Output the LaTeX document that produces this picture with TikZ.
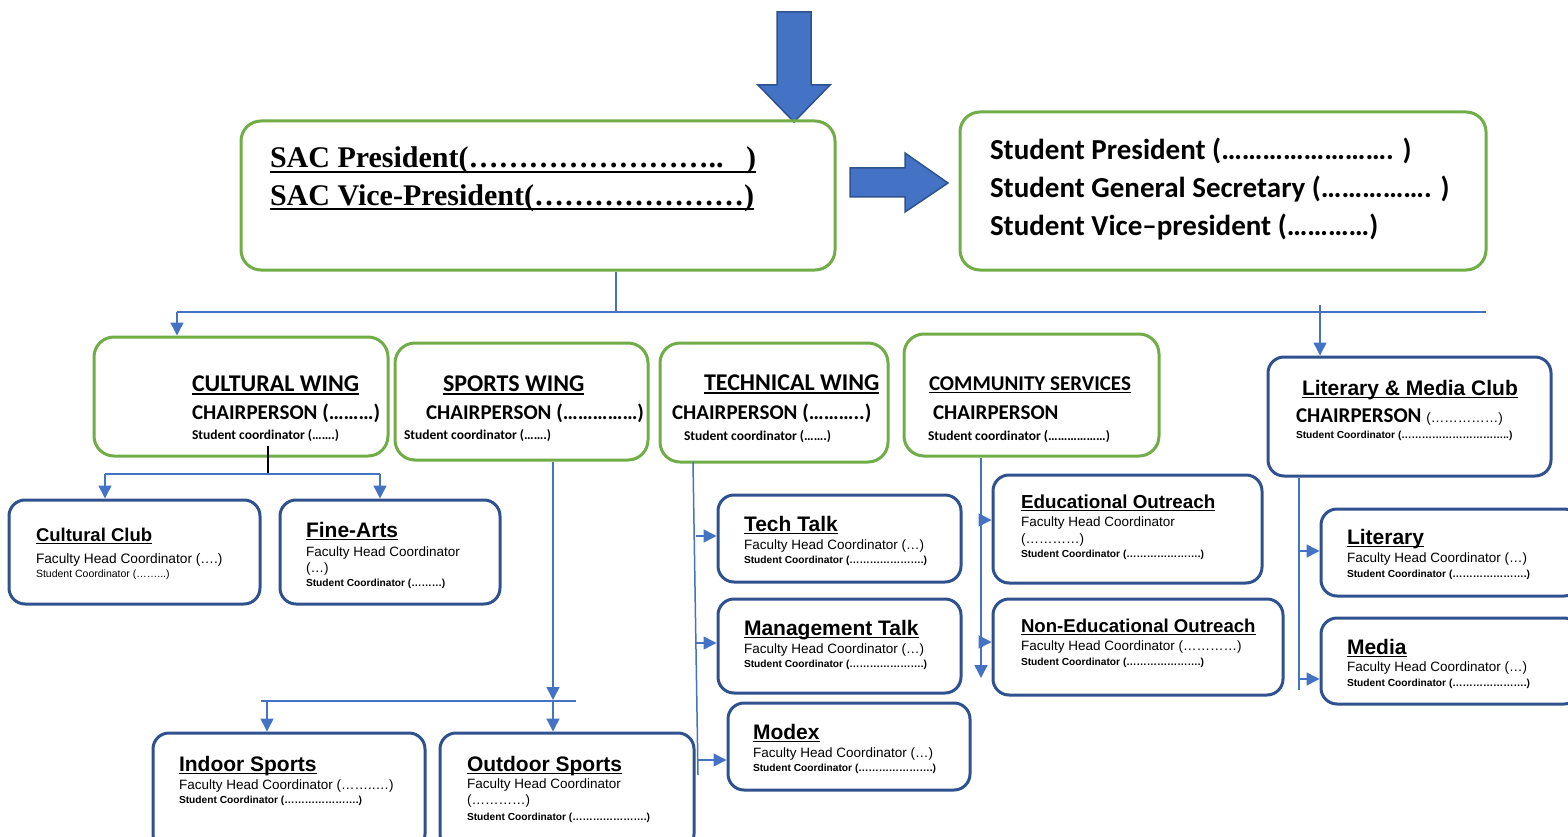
\documentclass[tikz,border=0pt]{standalone}
\usepackage{fontspec}
\setmainfont{Liberation Sans}
\newfontfamily\calfont{Carlito}
\newfontfamily\tnrfont{Liberation Serif}
\usetikzlibrary{arrows.meta}
\definecolor{gr}{HTML}{70AD47}
\definecolor{bb}{HTML}{2F528F}
\definecolor{ln}{HTML}{4472C4}
\newcommand\uln[1]{\setbox0\hbox{#1}\leavevmode\rlap{\vrule width\wd0 height -0.09em depth 0.165em}\box0}
\begin{document}
\begin{tikzpicture}[x=1pt,y=-1pt,
  gbox/.style={draw=gr, line width=3pt, rounded corners=20pt, inner sep=0pt},
  bbox/.style={draw=bb, line width=3pt, rounded corners=16pt, inner sep=0pt},
  tx/.style={anchor=base west, inner sep=0pt, outer sep=0pt},
  sac/.style={tx, font=\tnrfont\bfseries\fontsize{30}{30}\selectfont},
  stu/.style={tx, font=\calfont\bfseries\fontsize{29}{29}\selectfont},
  wing/.style={tx, font=\calfont\bfseries\fontsize{24}{24}\selectfont},
  chair/.style={tx, font=\calfont\bfseries\fontsize{21}{21}\selectfont},
  wsc/.style={tx, font=\calfont\bfseries\fontsize{13.5}{13.5}\selectfont},
  ttl/.style={tx, font=\bfseries\fontsize{21}{21}\selectfont},
  fhc/.style={tx, font=\fontsize{13.5}{13.5}\selectfont},
  sc/.style={tx, font=\bfseries\fontsize{10.2}{10.2}\selectfont},
  conn/.style={draw=ln, line width=1.5pt},
  arr/.style={conn, -{Triangle[length=13pt,width=13pt]}},
  blk/.style={fill=ln, draw=bb, line width=1.5pt}
]
\useasboundingbox (0,0) rectangle (1568,837);

% block arrows
\draw[blk] (777,12) -- (811,12) -- (811,85) -- (830,85) -- (794,122) -- (758,85) -- (777,85) -- cycle;
\draw[blk] (850,168) -- (905,168) -- (905,153) -- (948,183) -- (905,212) -- (905,197) -- (850,197) -- cycle;

% top boxes
\node[gbox, minimum width=594pt, minimum height=149pt] (sacb) at (538,195.5) {};
\node[sac] (sac1) at (270,168) {\uln{SAC President(……………………..\ \ \ )}};
\node[sac] (sac2) at (270,205) {\uln{SAC Vice-President(…………………)}};

\node[gbox, minimum width=526pt, minimum height=158pt] (stub) at (1223,191) {};
\node[stu] (stu1) at (990,160) {Student President (……………………. )};
\node[stu] (stu2) at (990,198) {Student General Secretary (……………. )};
\node[stu] (stu3) at (990,236) {Student Vice–president (…………)};

% wings
\node[gbox, minimum width=294pt, minimum height=119pt] (cw) at (241,396.5) {};
\node[wing] (cw1) at (192,391) {\uln{CULTURAL WING}};
\node[chair] (cw2) at (192,419) {CHAIRPERSON (………)};
\node[wsc] (cw3) at (192,439) {Student coordinator (…….)};

\node[gbox, minimum width=253pt, minimum height=117pt] (sw) at (521.5,401.5) {};
\node[wing] (sw1) at (443,391) {\uln{SPORTS WING}};
\node[chair] (sw2) at (426,419) {CHAIRPERSON (……………)};
\node[wsc] (sw3) at (404,439) {Student coordinator (…….)};

\node[gbox, minimum width=228pt, minimum height=119pt] (tw) at (774,402.5) {};
\node[wing] (tw1) at (704,390) {\uln{TECHNICAL WING}};
\node[chair] (tw2) at (672,419) {CHAIRPERSON (………..)};
\node[wsc] (tw3) at (684,440) {Student coordinator (…….)};

\node[gbox, minimum width=255pt, minimum height=122pt] (cs) at (1031.5,395) {};
\node[chair] (cs1) at (929,390) {\uln{COMMUNITY SERVICES}};
\node[chair] (cs2) at (933,419) {CHAIRPERSON};
\node[wsc] (cs3) at (928,440) {Student coordinator (………………)};

\node[bbox, minimum width=283pt, minimum height=119pt] (lm) at (1409.5,416.5) {};
\node[ttl] (lm1) at (1302,395) {\uln{Literary \& Media Club}};
\node[chair] (lm2) at (1296,422) {CHAIRPERSON {\normalfont\mdseries\fontsize{13.5}{13.5}\selectfont(……………)}};
\node[sc] (lm3) at (1296,438) {Student Coordinator (…………………………..)};

% cultural children
\node[bbox, minimum width=251pt, minimum height=104pt] (cc) at (134.5,552) {};
\node[ttl, font=\bfseries\fontsize{18.5}{18.5}\selectfont] (cc1) at (36,541) {\uln{Cultural Club}};
\node[fhc, font=\fontsize{13.7}{13.7}\selectfont] (cc2) at (36,563) {Faculty Head Coordinator (….)};
\node[tx, font=\fontsize{10.5}{10.5}\selectfont] (cc3) at (36,577) {Student Coordinator (……...)};

\node[bbox, minimum width=220pt, minimum height=104pt] (fa) at (390,552) {};
\node[ttl] (fa1) at (306,537) {\uln{Fine-Arts}};
\node[fhc] (fa2) at (306,556) {Faculty Head Coordinator};
\node[fhc] (fa3) at (306,572) {(…)};
\node[sc] (fa4) at (306,586) {Student Coordinator (………)};

% sports children
\node[bbox, minimum width=272pt, minimum height=117pt] (ins) at (289,791.5) {};
\node[ttl] (ins1) at (179,771) {\uln{Indoor Sports}};
\node[fhc] (ins2) at (179,789) {Faculty Head Coordinator (……..…)};
\node[sc] (ins3) at (179,803) {Student Coordinator (………………….)};

\node[bbox, minimum width=254pt, minimum height=117pt] (outs) at (567,791.5) {};
\node[ttl] (outs1) at (467,771) {\uln{Outdoor Sports}};
\node[fhc] (outs2) at (467,788) {Faculty Head Coordinator};
\node[fhc] (outs3) at (467,804) {(…………)};
\node[sc] (outs4) at (467,820) {Student Coordinator (………………….)};

% technical children
\node[bbox, minimum width=243pt, minimum height=87pt] (tt) at (839.5,538.5) {};
\node[ttl] (tt1) at (744,531) {\uln{Tech Talk}};
\node[fhc] (tt2) at (744,549) {Faculty Head Coordinator (…)};
\node[sc] (tt3) at (744,563) {Student Coordinator (………………….)};

\node[bbox, minimum width=243pt, minimum height=94pt] (mt) at (839.5,646) {};
\node[ttl] (mt1) at (744,635) {\uln{Management Talk}};
\node[fhc] (mt2) at (744,653) {Faculty Head Coordinator (…)};
\node[sc] (mt3) at (744,667) {Student Coordinator (………………….)};

\node[bbox, minimum width=242pt, minimum height=87pt] (md) at (849,746.5) {};
\node[ttl] (md1) at (753,739) {\uln{Modex}};
\node[fhc] (md2) at (753,757) {Faculty Head Coordinator (…)};
\node[sc] (md3) at (753,771) {Student Coordinator (………………….)};

% community children
\node[bbox, minimum width=269pt, minimum height=108pt] (eo) at (1127.5,529) {};
\node[ttl, font=\bfseries\fontsize{18.8}{18.8}\selectfont] (eo1) at (1021,508) {\uln{Educational Outreach}};
\node[fhc] (eo2) at (1021,526) {Faculty Head Coordinator};
\node[fhc] (eo3) at (1021,543) {(…………)};
\node[sc] (eo4) at (1021,557) {Student Coordinator (………………….)};

\node[bbox, minimum width=290pt, minimum height=96pt] (neo) at (1138,647) {};
\node[ttl, font=\bfseries\fontsize{18.6}{18.6}\selectfont] (neo1) at (1021,632) {\uln{Non-Educational Outreach}};
\node[fhc] (neo2) at (1021,650) {Faculty Head Coordinator (…………)};
\node[sc] (neo3) at (1021,665) {Student Coordinator (………………….)};

% literary children
\node[bbox, minimum width=259pt, minimum height=87pt] (lit) at (1450.5,552.5) {};
\node[ttl] (lit1) at (1347,544) {\uln{Literary}};
\node[fhc] (lit2) at (1347,562) {Faculty Head Coordinator (…)};
\node[sc] (lit3) at (1347,577) {Student Coordinator (………………….)};

\node[bbox, minimum width=259pt, minimum height=86pt] (med) at (1450.5,661) {};
\node[ttl] (med1) at (1347,654) {\uln{Media}};
\node[fhc] (med2) at (1347,671) {Faculty Head Coordinator (…)};
\node[sc] (med3) at (1347,686) {Student Coordinator (………………….)};

% connectors: top bus
\coordinate (busL) at (177,312);
\coordinate (busR) at (1486,312);
\coordinate (sacx) at (616,0);
\coordinate (litTop) at (1320,305);
\draw[conn] (sacb.south -| sacx) -- (sacx |- busL);
\draw[conn] (busL) -- (busR);
\draw[arr] (busL) -- (busL |- cw.north);
\draw[arr] (litTop) -- (litTop |- lm.north);

% cultural
\coordinate (cwx) at (268,446);
\coordinate (cbusL) at (105,474);
\coordinate (cbusR) at (380,474);
\draw[black, line width=1.2pt] (cwx) -- (cwx |- cbusL);
\draw[conn] (cbusL) -- (cbusR);
\draw[arr] (cbusL) -- (cbusL |- cc.north);
\draw[arr] (cbusR) -- (cbusR |- fa.north);

% sports
\coordinate (swx) at (553,0);
\coordinate (sbusL) at (261,701);
\coordinate (sbusR) at (576,701);
\coordinate (sinx) at (267,701);
\draw[arr] (sw.south -| swx) -- (553,700);
\draw[conn] (sbusL) -- (sbusR);
\draw[arr] (sinx) -- (sinx |- ins.north);
\draw[arr] (swx |- sbusL) -- (swx |- outs.north);

% technical
\coordinate (tT) at (693,462);
\coordinate (tB) at (698,775);
\coordinate (tx) at (696,0);
\draw[conn] (tT) -- (tB);
\draw[arr] ([yshift=2.5pt]tt.west -| tx) -- ([yshift=2.5pt]tt.west);
\draw[arr] ([yshift=3pt]mt.west -| tx) -- ([yshift=3pt]mt.west);
\draw[arr] ([yshift=-13.5pt]md.west -| tB) -- ([yshift=-13.5pt]md.west);

% community
\coordinate (cx) at (981,0);
\draw[arr] (cs.south -| cx) -- (981,678);
\draw[arr] ([yshift=9pt]eo.west -| cx) -- ([yshift=9pt]eo.west);
\draw[arr] ([yshift=5pt]neo.west -| cx) -- ([yshift=5pt]neo.west);

% literary
\coordinate (lx) at (1299,0);
\coordinate (lB) at (1299,690);
\draw[conn] (lm.south -| lx) -- (lB);
\draw[arr] ([yshift=1.5pt]lit.west -| lx) -- ([yshift=1.5pt]lit.west);
\draw[arr] ([yshift=-18pt]med.west -| lx) -- ([yshift=-18pt]med.west);
\end{tikzpicture}
\end{document}
